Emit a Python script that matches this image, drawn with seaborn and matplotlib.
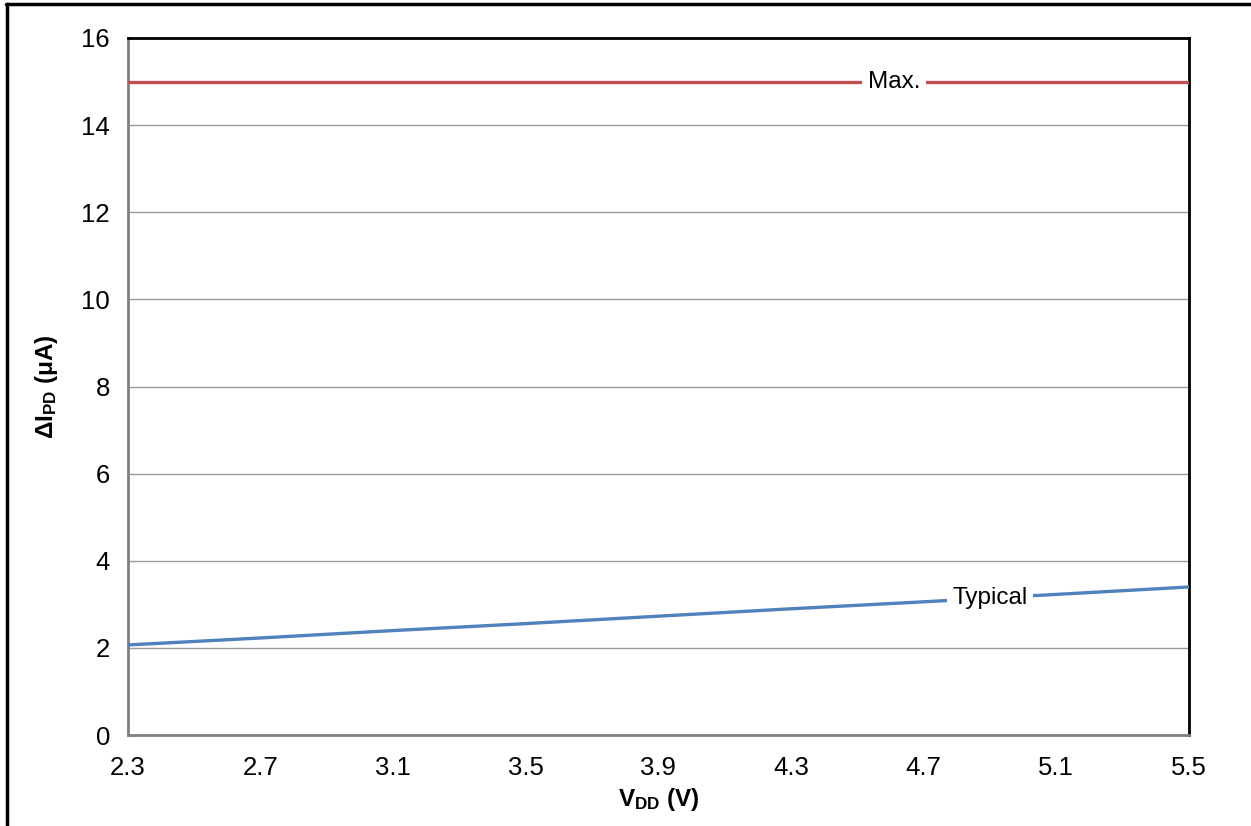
import numpy as np
import pandas as pd
import matplotlib
matplotlib.use("Agg")
import matplotlib.pyplot as plt
import seaborn as sns

# VDD sweep (V) and delta IPD (uA)
vdd = [2.3, 2.7, 3.1, 3.5, 3.9, 4.3, 4.7, 5.1, 5.5]
typical = [2.07, 2.23, 2.40, 2.56, 2.73, 2.90, 3.06, 3.23, 3.40]
max_limit = [15, 15, 15, 15, 15, 15, 15, 15, 15]
series_names = ["Max.", "Typical"]
colors = ["#C0504D", "#4F81BD"]
xticks = [2.3, 2.7, 3.1, 3.5, 3.9, 4.3, 4.7, 5.1, 5.5]
yticks = [0, 2, 4, 6, 8, 10, 12, 14, 16]
label_x = {"Max.": 4.61, "Typical": 4.9}

df = pd.DataFrame({
    "VDD": vdd * 2,
    "dIPD": max_limit + typical,
    "Series": ["Max."] * len(vdd) + ["Typical"] * len(vdd),
})

sns.set_style("white", {"text.color": "black", "axes.labelcolor": "black",
                        "xtick.color": "black", "ytick.color": "black"})
plt.rcParams['font.family'] = ['Liberation Sans', 'DejaVu Sans']
plt.rcParams['mathtext.fontset'] = 'custom'
plt.rcParams['mathtext.rm'] = 'Liberation Sans'
plt.rcParams['mathtext.bf'] = 'Liberation Sans:bold'

fig = plt.figure(figsize=(12.51, 8.26), dpi=100)
ax = fig.add_axes([0.1023, 0.110, 0.848, 0.844])

sns.lineplot(data=df, x="VDD", y="dIPD", hue="Series", hue_order=series_names,
             palette=colors, linewidth=2.4, legend=False, ax=ax, zorder=3)

# inline labels sitting on the lines
for name in series_names:
    sub = df[df["Series"] == name]
    yv = np.interp(label_x[name], sub["VDD"], sub["dIPD"])
    ax.text(label_x[name], yv, name, ha="center", va="center", fontsize=17.5,
            color="black", zorder=4,
            bbox=dict(facecolor="white", edgecolor="none", pad=4))

ax.set_xlim(2.3, 5.5)
ax.set_ylim(0, 16)
ax.set_xticks(xticks)
ax.set_xticklabels([f"{v:.1f}" for v in xticks])
ax.set_yticks(yticks)
ax.yaxis.grid(True, color="#9a9a9a", linewidth=1.0)
ax.set_axisbelow(True)

ax.tick_params(axis="both", direction="out", length=5, width=1, color="#999999",
               labelcolor="black", labelsize=18.5, pad=8)
ax.tick_params(axis="x", pad=10)

for side in ["left", "bottom"]:
    ax.spines[side].set_color("#7f7f7f")
    ax.spines[side].set_linewidth(2)
for side in ["top", "right"]:
    ax.spines[side].set_color("black")
    ax.spines[side].set_linewidth(2)

ax.set_xlabel(r"$\mathbf{V_{DD}}$ (V)", fontsize=17.5, fontweight="bold",
              color="black", labelpad=4)
ax.set_ylabel(r"$\mathbf{\Delta I_{PD}}$ (μA)", fontsize=17.5, fontweight="bold",
              color="black", labelpad=15)

# outer frame of the page figure
fig.add_artist(plt.Line2D([0.0045, 1.0], [0.995, 0.995], color="black", linewidth=2.5,
                          transform=fig.transFigure))
fig.add_artist(plt.Line2D([0.0055, 0.0055], [0.0, 0.995], color="black", linewidth=2.5,
                          transform=fig.transFigure))

fig.savefig("out.png", dpi=100)
